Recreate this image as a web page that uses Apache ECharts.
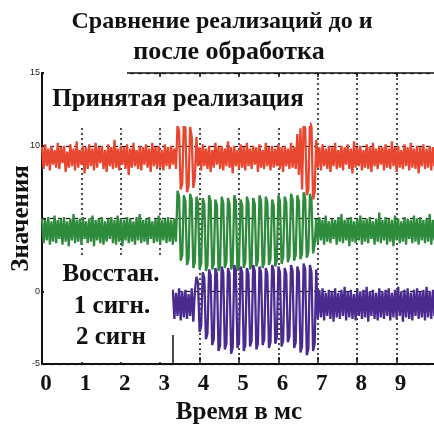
<!DOCTYPE html>
<html>
<head>
<meta charset="utf-8">
<script src="https://cdn.jsdelivr.net/npm/echarts@6/dist/echarts.min.js"></script>
<style>
html,body{margin:0;padding:0;background:#fff;}
#chart{width:434px;height:432px;}
</style>
</head>
<body>
<div id="chart"></div>
<script>
// ---- data ----
var sampleStep = 0.04;          // ms between samples
var redStart = 0;               // ms
var greenStart = 0;             // ms
var purpleStart = 3.32;         // ms

var redValues = [
 9.9, 8.4, 10.1, 8.6, 9.8, 8.3, 10.0, 8.7, 9.7, 8.5,
 10.2, 8.4, 9.9, 8.8, 10.0, 8.2, 9.6, 8.5, 10.1, 8.6,
 9.8, 8.3, 10.3, 8.5, 9.7, 8.7, 10.0, 8.1, 9.9, 8.4,
 10.1, 8.6, 9.8, 8.3, 10.2, 8.5, 9.9, 8.8, 10.0, 8.4,
 9.7, 8.2, 10.1, 8.6, 9.9, 8.4, 10.4, 8.5, 9.8, 8.3,
 10.0, 8.7, 9.9, 8.4, 10.1, 8.0, 9.8, 8.5, 10.2, 8.6,
 9.7, 8.4, 10.0, 8.3, 9.9, 8.7, 10.1, 8.5, 9.8, 8.2,
 10.2, 8.6, 9.9, 8.4, 10.0, 8.5, 9.7, 8.3, 10.1, 8.6,
 9.9, 8.4, 10.0, 8.7, 9.8, 8.4,
 11.4, 11.0, 7.0, 7.4, 11.6, 11.2, 6.8, 7.2, 11.3, 10.6, 7.1, 7.8, 10.6, 8.6,
 9.9, 8.3, 10.1, 8.6, 9.8, 8.4, 10.0, 8.2, 9.7, 8.5,
 10.2, 8.7, 9.9, 8.4, 10.0, 8.3, 9.8, 8.6, 10.3, 8.5,
 9.9, 8.1, 10.0, 8.6, 9.7, 8.4, 10.1, 8.5, 9.9, 8.3,
 10.2, 8.6, 9.8, 8.4, 10.0, 8.7, 9.9, 8.2, 10.1, 8.5,
 9.7, 8.4, 10.2, 8.6, 9.9, 8.3, 10.0, 8.5, 9.8, 8.6,
 10.1, 8.4, 9.9, 8.2, 10.0, 8.6, 9.8, 8.4, 10.2, 8.5,
 9.9, 8.4,
 10.8, 8.0, 11.2, 7.0, 11.5, 11.2, 6.6, 7.0, 11.6, 11.3, 6.3, 6.8, 10.4,
 8.5, 9.9, 8.3, 10.1, 8.6, 9.8, 8.4, 10.0, 8.2, 9.9,
 8.6, 10.2, 8.4, 9.7, 8.5, 10.0, 8.3, 9.9, 8.7, 10.1,
 8.4, 9.8, 8.1, 10.3, 8.5, 9.9, 8.6, 10.0, 8.3, 9.7,
 8.5, 10.1, 8.4, 9.9, 8.2, 10.2, 8.6, 9.8, 8.4, 10.0,
 8.7, 9.9, 8.3, 10.1, 8.5, 9.8, 8.4, 10.3, 8.6, 9.9,
 8.2, 10.0, 8.5, 9.7, 8.4, 10.1, 8.6, 9.9, 8.3, 10.2,
 8.5, 9.8, 8.4, 10.0, 8.1, 9.9, 8.6, 10.1, 8.4, 9.8,
 8.5, 10.0, 8.3, 9.9, 8.6, 10.1
];

var greenValues = [
 5.0, 3.3, 4.9, 3.5, 5.1, 3.2, 4.8, 3.4, 5.2, 3.3,
 4.9, 3.6, 5.0, 3.2, 5.1, 3.4, 4.8, 3.1, 5.0, 3.5,
 5.3, 3.3, 4.9, 3.4, 5.0, 3.2, 5.1, 3.6, 4.8, 3.3,
 5.0, 3.4, 5.2, 3.1, 4.9, 3.5, 5.0, 3.3, 5.1, 3.2,
 4.8, 3.4, 5.0, 3.6, 5.1, 3.3, 4.9, 3.2, 5.2, 3.4,
 5.0, 3.1, 4.9, 3.5, 5.1, 3.3, 5.0, 3.4, 4.8, 3.2,
 5.1, 3.5, 5.3, 3.3, 4.9, 3.4, 5.0, 3.2, 5.1, 3.6,
 4.8, 3.3, 5.0, 3.4, 5.2, 3.2, 4.9, 3.5, 5.0, 3.3,
 5.1, 3.4, 4.9, 3.2, 5.0, 3.4,
 6.9, 6.5, 2.1, 2.5,
 6.6, 6.2, 1.8, 2.2,
 6.7, 6.3, 1.6, 2.0,
 6.5, 6.1, 1.5, 1.9,
 6.4, 6.0, 1.4, 1.8,
 6.6, 6.2, 1.5, 1.9,
 6.3, 5.9, 1.4, 1.8,
 6.5, 6.1, 1.6, 2.0,
 6.4, 6.0, 1.5, 1.9,
 6.6, 6.2, 1.4, 1.8,
 6.3, 5.9, 1.6, 2.0,
 6.5, 6.1, 1.5, 1.9,
 6.4, 6.0, 1.7, 2.1,
 6.6, 6.2, 1.6, 2.0,
 6.5, 6.1, 1.8, 2.2,
 6.3, 5.9, 1.7, 2.1,
 6.6, 6.2, 1.9, 2.3,
 6.5, 6.1, 2.0, 2.4,
 6.7, 6.3, 2.1, 2.5,
 6.6, 6.2, 2.2, 2.6,
 6.8, 6.4, 2.3, 2.7,
 6.7, 6.2, 2.6, 3.2,
 5.0, 3.3, 5.1, 3.5, 4.9, 3.2, 5.2, 3.4, 4.8, 3.3,
 5.0, 3.6, 4.9, 3.2, 5.1, 3.4, 5.3, 3.3, 4.9, 3.5,
 5.0, 3.1, 5.1, 3.4, 4.8, 3.3, 5.0, 3.5, 5.2, 3.2,
 4.9, 3.4, 5.0, 3.3, 5.1, 3.6, 4.8, 3.2, 5.0, 3.4,
 5.4, 3.3, 4.9, 3.5, 5.1, 3.2, 5.0, 3.4, 4.9, 3.1,
 5.2, 3.5, 5.0, 3.3, 4.8, 3.4, 5.1, 3.2, 5.0, 3.6,
 4.9, 3.3, 5.2, 3.4, 5.0, 3.2, 5.1, 3.5, 4.9, 3.3,
 5.0, 3.4, 5.3, 3.2, 4.9, 3.5, 5.1
];

var purpleValues = [
 0.1, -1.9, -0.1, -1.7, 0.2, -2.0, 0.0, -1.8, 0.1, -1.9,
 -0.2, -1.7, 0.2, -2.1, 0.0,
 1.0, 0.6, -2.8, -2.4,
 1.3, 0.9, -3.3, -2.9,
 1.5, 1.1, -3.7, -3.3,
 1.6, 1.2, -4.1, -3.7,
 1.7, 1.3, -4.0, -3.6,
 1.6, 1.2, -4.3, -3.9,
 1.8, 1.4, -3.9, -3.5,
 1.7, 1.3, -4.1, -3.7,
 1.6, 1.2, -3.8, -3.4,
 1.8, 1.4, -4.0, -3.6,
 1.7, 1.3, -3.7, -3.3,
 1.6, 1.2, -3.9, -3.5,
 1.8, 1.4, -3.6, -3.2,
 1.7, 1.3, -3.8, -3.4,
 1.6, 1.2, -3.5, -3.1,
 1.8, 1.4, -3.9, -3.5,
 1.7, 1.3, -4.2, -3.8,
 1.9, 1.5, -4.4, -4.0,
 1.8, 1.3, -4.1, -3.6,
 1.5,
 -1.9, 0.1, -1.8, 0.2, -2.0, -0.1, -1.7, 0.1, -1.9, 0.0,
 -2.1, 0.2, -1.8, -0.1, -1.9, 0.1, -1.7, 0.3, -2.0, 0.0,
 -1.8, 0.1, -1.9, -0.2, -2.0, 0.2, -1.7, 0.0, -1.9, 0.1,
 -1.8, 0.3, -2.1, 0.0, -1.7, 0.1, -1.9, -0.1, -2.0, 0.2,
 -1.8, 0.0, -1.9, 0.1, -1.7, 0.2, -2.0, -0.1, -1.8, 0.1,
 -1.9, 0.3, -1.7, 0.0, -2.1, 0.1, -1.8, 0.2, -1.9, -0.1,
 -2.0, 0.1, -1.7, 0.2, -1.9, 0.0, -1.8, 0.1, -2.0, 0.3,
 -1.8, 0.0, -1.9, 0.1, -1.7, 0.2
];

var xTickLabels = ['0','1','2','3','4','5','6','7','8','9',''];
var yTickLabels = {'-5':'-5','0':'0','5':'','10':'10','15':'15'};

var titleLines = ['Сравнение реализаций до и', 'после обработка'];
var xAxisName = 'Время в мс';
var yAxisName = 'Значения';
var boxTopText = 'Принятая реализация';
var boxBottomLines = ['Восстан.', '1 сигн.', '2 сигн'];

function toPairs(start, vals) {
  return vals.map(function (v, i) { return [+(start + i * sampleStep).toFixed(3), v]; });
}

var serif = '"Liberation Serif", "DejaVu Serif", serif';
var boldFont = 'bold 25px ' + serif;
function txt(s, x, y, font) {
  return {type: 'text', z: 102, x: x, y: y,
    style: {text: s, font: font, fill: '#111', align: 'center', verticalAlign: 'middle',
            textAlign: 'center', textVerticalAlign: 'middle'}};
}

var chart = echarts.init(document.getElementById('chart'), null, {renderer: 'canvas'});
chart.setOption({
  animation: false,
  backgroundColor: '#ffffff',
  grid: {left: 42, right: -2, top: 73, bottom: 68, containLabel: false, outerBoundsMode: 'none'},
  xAxis: [{
    type: 'value', min: 0, max: 10, interval: 1, position: 'bottom',
    name: xAxisName, nameLocation: 'middle', nameGap: 36, nameMoveOverlap: false,
    nameTextStyle: {fontFamily: serif, fontWeight: 'bold', fontSize: 25, color: '#111'},
    axisLine: {show: true, onZero: false, lineStyle: {color: '#111', width: 2}},
    axisTick: {show: true, inside: true, length: 7, lineStyle: {color: '#111', width: 1.5}},
    axisLabel: {
      show: true, margin: 9, padding: [0, 0, 0, 8],
      fontFamily: serif, fontWeight: 'bold', fontSize: 23, color: '#111',
      formatter: function (v) { return xTickLabels[Math.round(v)] || ''; }
    },
    splitLine: {show: true, lineStyle: {color: '#111', width: 1.5, type: [2, 3]}}
  }, {
    type: 'value', min: 0, max: 10, interval: 1, position: 'top',
    axisLine: {show: true, onZero: false, lineStyle: {color: '#111', width: 1.5}},
    axisTick: {show: true, inside: true, length: 4, lineStyle: {color: '#111', width: 1.5}},
    axisLabel: {show: false},
    splitLine: {show: false}
  }],
  yAxis: {
    type: 'value', min: -5, max: 15, interval: 5,
    name: yAxisName, nameLocation: 'middle', nameGap: 8, nameRotate: 90, nameMoveOverlap: false,
    nameTextStyle: {fontFamily: serif, fontWeight: 'bold', fontSize: 25, color: '#111'},
    axisLine: {show: true, onZero: false, lineStyle: {color: '#111', width: 2}},
    axisTick: {show: true, inside: true, length: 4, lineStyle: {color: '#111', width: 1.5}},
    axisLabel: {
      show: true, margin: 2, fontFamily: '"Liberation Sans", sans-serif', fontSize: 9, color: '#222',
      formatter: function (v) { var k = String(v); return yTickLabels.hasOwnProperty(k) ? yTickLabels[k] : ''; }
    },
    splitLine: {show: true, lineStyle: {color: '#111', width: 1.2, type: [4, 4]}}
  },
  series: [
    {type: 'line', name: 'red', data: toPairs(redStart, redValues), showSymbol: false, symbol: 'none',
     lineStyle: {color: '#e8462e', width: 2.3}, itemStyle: {color: '#e8462e'}, z: 3},
    {type: 'line', name: 'green', data: toPairs(greenStart, greenValues), showSymbol: false, symbol: 'none',
     lineStyle: {color: '#2e8b3c', width: 2.3}, itemStyle: {color: '#2e8b3c'}, z: 4},
    {type: 'line', name: 'purple', data: toPairs(purpleStart, purpleValues), showSymbol: false, symbol: 'none',
     lineStyle: {color: '#4b2a90', width: 2.3}, itemStyle: {color: '#4b2a90'}, z: 5}
  ],
  graphic: [
    {type: 'rect', z: 100, shape: {x: 44, y: 69, width: 83, height: 57}, style: {fill: '#fff'}},
    {type: 'rect', z: 100, shape: {x: 127, y: 77, width: 183, height: 49}, style: {fill: '#fff'}},
    {type: 'rect', z: 100, shape: {x: 44, y: 257, width: 128, height: 105}, style: {fill: '#fff'}},
    {type: 'line', z: 101, shape: {x1: 173, y1: 335, x2: 173, y2: 363}, style: {stroke: '#111', lineWidth: 1.5}},
    txt(titleLines[0], 222, 22, 'bold 24px ' + serif),
    txt(titleLines[1], 229, 52, 'bold 26px ' + serif),
    txt(boxTopText, 178, 100, boldFont),
    txt(boxBottomLines[0], 111, 275, boldFont),
    txt(boxBottomLines[1], 112, 307, boldFont),
    txt(boxBottomLines[2], 111, 338, boldFont)
  ]
});
</script>
</body>
</html>
